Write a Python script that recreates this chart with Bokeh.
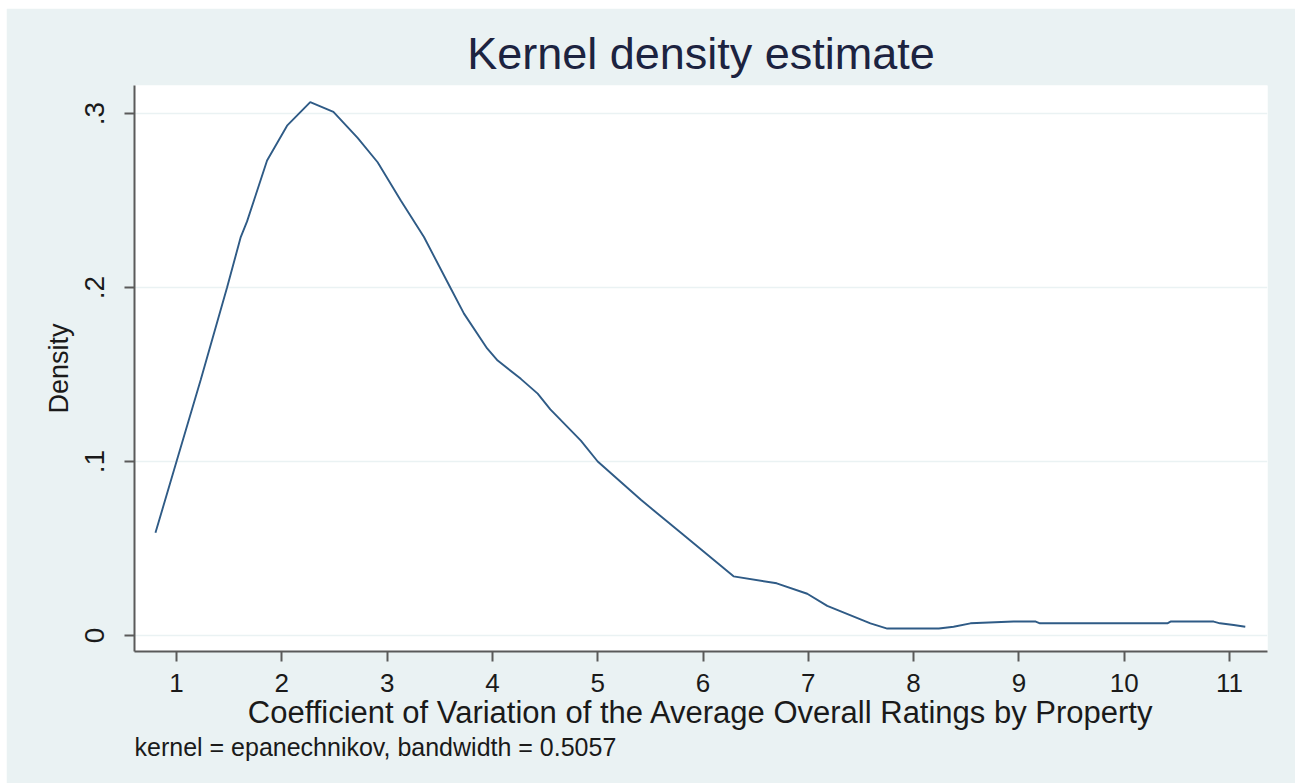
from bokeh.plotting import figure
from bokeh.models import FixedTicker, Range1d, Title, Spacer
from bokeh.layouts import column, row
from bokeh.embed import file_html
from bokeh.resources import INLINE

# Data (kernel density estimate)
cv_values = [0.80, 1.00, 1.23, 1.48, 1.61, 1.67, 1.86, 2.05, 2.27, 2.49, 2.72, 2.91,
             3.13, 3.35, 3.60, 3.73, 3.95, 4.05, 4.27, 4.43, 4.55, 4.84, 5.00, 5.41,
             5.53, 5.79, 6.29, 6.70, 6.99, 7.18, 7.59, 7.75, 8.24, 8.38, 8.54, 8.95,
             9.16, 9.20, 10.41, 10.44, 10.85, 10.91, 11.04, 11.15]
density = [0.059, 0.100, 0.147, 0.200, 0.229, 0.238, 0.273, 0.293, 0.3065, 0.301, 0.286, 0.272,
           0.250, 0.229, 0.200, 0.185, 0.165, 0.158, 0.1475, 0.139, 0.130, 0.112, 0.100, 0.078,
           0.072, 0.059, 0.034, 0.030, 0.024, 0.017, 0.007, 0.004, 0.004, 0.005, 0.007, 0.008,
           0.008, 0.007, 0.007, 0.008, 0.008, 0.007, 0.006, 0.005]

x_ticks = [1, 2, 3, 4, 5, 6, 7, 8, 9, 10, 11]
y_ticks = [0, 0.1, 0.2, 0.3]
y_tick_labels = ["0", ".1", ".2", ".3"]

title_text = "Kernel density estimate"
x_label = "Coefficient of Variation of the Average Overall Ratings by Property"
y_label = "Density"
note_text = "kernel = epanechnikov, bandwidth = 0.5057"

FONT = "Liberation Sans"
BG = "#eaf2f3"
TXT = "#1a1a1a"
AXC = "#5a5a5a"

p = figure(width=1289, height=775, output_backend="svg", toolbar_location=None,
           x_range=Range1d(0.601, 11.361), y_range=Range1d(-0.0092, 0.3161),
           min_border_top=77, min_border_left=128, min_border_right=28, min_border_bottom=132)

p.background_fill_color = "white"
p.border_fill_color = BG
p.outline_line_color = None

p.title.text = title_text
p.title.align = "center"
p.title.text_font = FONT
p.title.text_font_size = "45px"
p.title.text_font_style = "normal"
p.title.text_color = "#1c2340"
p.title.standoff = 14

p.line(cv_values, density, line_color="#2f5b86", line_width=1.9)

# axes
p.xaxis.ticker = FixedTicker(ticks=x_ticks)
p.yaxis.ticker = FixedTicker(ticks=y_ticks)
p.yaxis.major_label_overrides = {t: l for t, l in zip(y_ticks, y_tick_labels)}
p.yaxis.major_label_orientation = "vertical"

for ax in (p.xaxis, p.yaxis):
    ax.axis_line_color = AXC
    ax.axis_line_width = 2
    ax.major_tick_line_color = AXC
    ax.major_tick_line_width = 2
    ax.major_tick_out = 10
    ax.major_tick_in = 0
    ax.minor_tick_line_color = None
    ax.major_label_text_font = FONT
    ax.major_label_text_color = TXT
    ax.axis_label_text_font = FONT
    ax.axis_label_text_font_style = "normal"
    ax.axis_label_text_color = TXT

p.xaxis.major_label_text_font_size = "26px"
p.xaxis.axis_label = x_label
p.xaxis.axis_label_text_font_size = "31px"
p.xaxis.major_label_standoff = 12
p.xaxis.axis_label_standoff = 0

p.yaxis.major_label_text_font_size = "28px"
p.yaxis.axis_label = y_label
p.yaxis.axis_label_text_font_size = "27px"
p.yaxis.major_label_standoff = 20
p.yaxis.axis_label_standoff = 9

p.xgrid.grid_line_color = None
p.ygrid.grid_line_color = BG
p.ygrid.grid_line_width = 1.5

note = Title(text=note_text, align="left", text_font=FONT, text_font_size="25px",
             text_font_style="normal", text_color=TXT, standoff=-4)
p.add_layout(note, "below")

layout = column(Spacer(height=8), row(Spacer(width=6), p))
open("out.html", "w").write(file_html(layout, INLINE))
